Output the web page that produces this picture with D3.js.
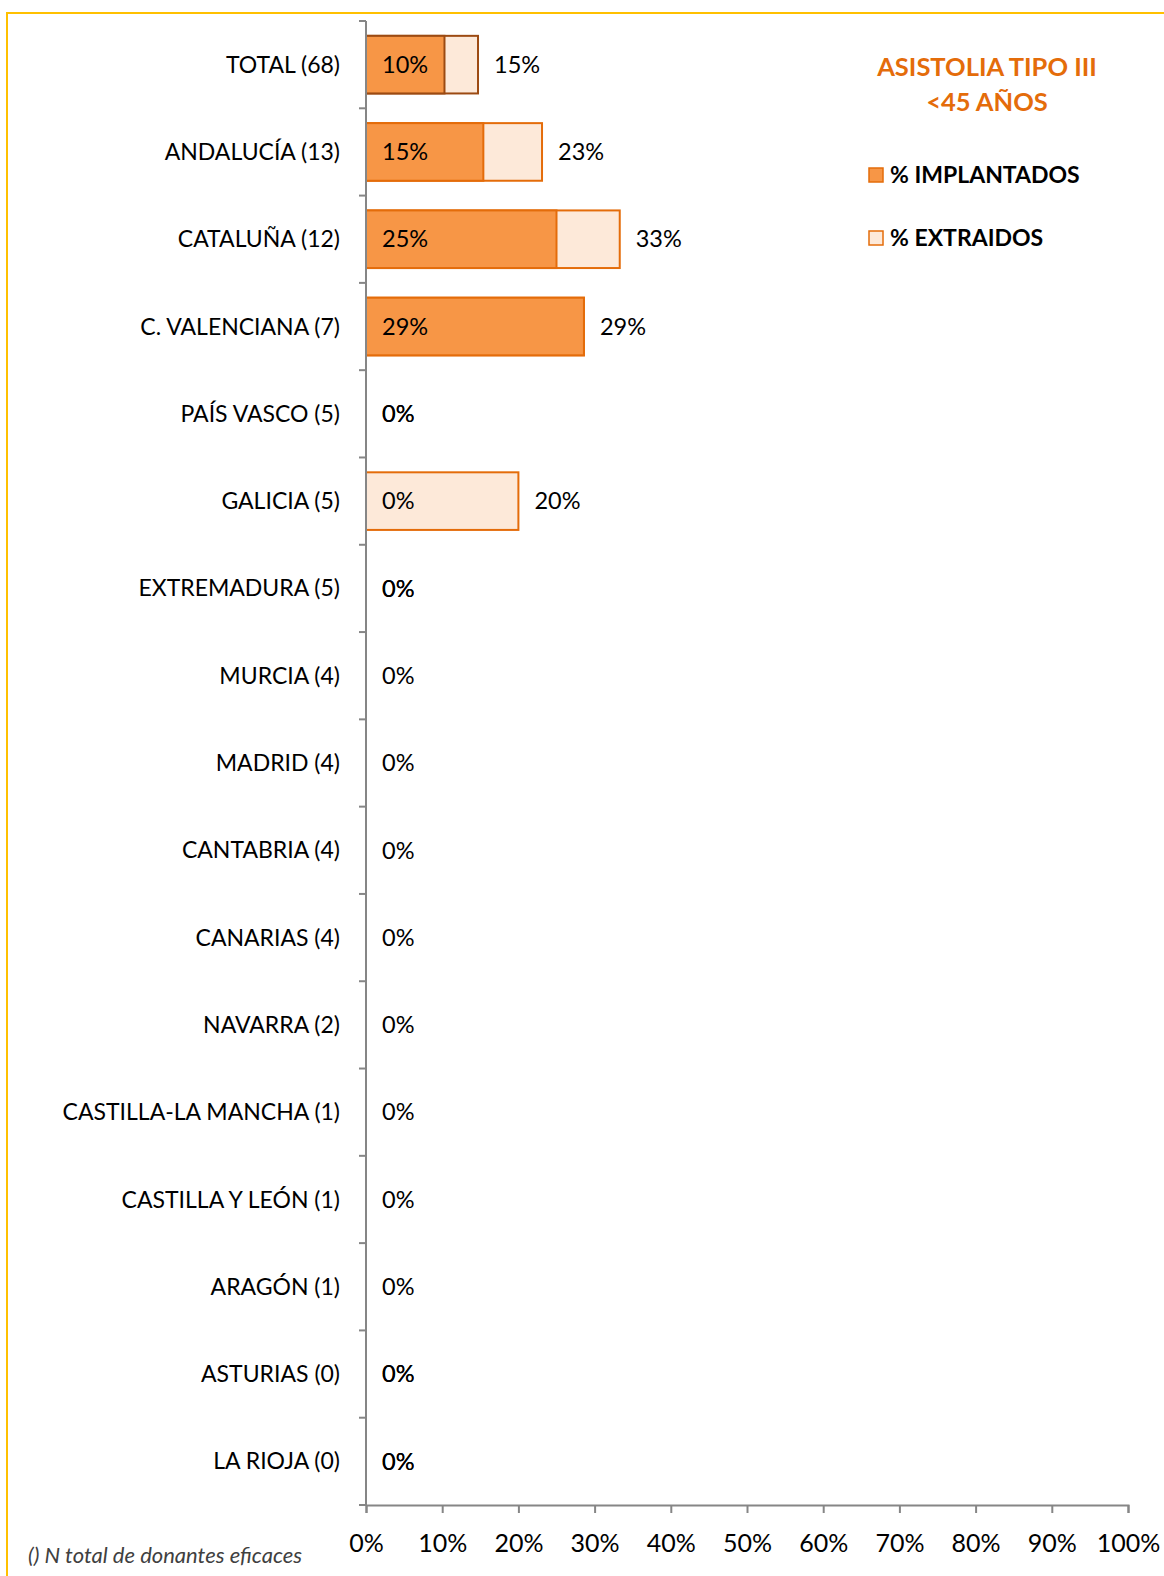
<!DOCTYPE html>
<html>
<head>
<meta charset="utf-8">
<script src="https://cdn.jsdelivr.net/npm/d3@7"></script>
<style>
  body { margin: 0; background: #fff; }
  svg text { font-family: Lato, "Open Sans", sans-serif; }
</style>
</head>
<body>
<div id="chart"></div>
<script>
// Asistolia tipo III, <45 años: % implantados vs % extraidos por comunidad

const W = 1164, H = 1576;

const regions = ['TOTAL (68)', 'ANDALUCÍA (13)', 'CATALUÑA (12)', 'C. VALENCIANA (7)', 'PAÍS VASCO (5)',
  'GALICIA (5)', 'EXTREMADURA (5)', 'MURCIA (4)', 'MADRID (4)', 'CANTABRIA (4)', 'CANARIAS (4)',
  'NAVARRA (2)', 'CASTILLA-LA MANCHA (1)', 'CASTILLA Y LEÓN (1)', 'ARAGÓN (1)', 'ASTURIAS (0)', 'LA RIOJA (0)'];
// percentages; null = no value shown
const implantados = [10.3, 15.4, 25, 28.6, 0, 0, 0, 0, 0, 0, 0, 0, 0, 0, 0, 0, 0];
const extraidos = [14.7, 23.1, 33.3, 28.6, 0, 20, 0, null, null, null, null, null, null, null, null, 0, 0];
const xTicks = [0, 10, 20, 30, 40, 50, 60, 70, 80, 90, 100];

const orange = '#F79646', orangeLine = '#E46C0A', light = '#FDE9D9';
const yTop = 21, yBottom = 1505;

const svg = d3.select('#chart').append('svg')
  .attr('width', W).attr('height', H);

// yellow frame
svg.append('rect')
  .attr('x', 7).attr('y', 13)
  .attr('width', W + 20).attr('height', H + 20)
  .attr('fill', 'none').attr('stroke', '#FFC000').attr('stroke-width', 2);

const x = d3.scaleLinear().domain([0, 100]).range([366, 1128]);
const y = d3.scaleBand().domain(regions).range([yTop, yBottom]).paddingInner(0.34).paddingOuter(0.17);
const step = y.step();

const g = svg.append('g');

// extraidos bars (behind)
g.selectAll('rect.ext')
  .data(regions.map((r, i) => ({ r, v: extraidos[i], i })).filter(d => d.v > 0))
  .enter().append('rect')
  .attr('class', 'ext')
  .attr('x', x(0))
  .attr('y', d => y(d.r))
  .attr('width', d => x(d.v) - x(0))
  .attr('height', y.bandwidth())
  .attr('fill', light)
  .attr('stroke', d => d.i === 0 ? '#9C4A12' : orangeLine)
  .attr('stroke-width', 2);

// implantados bars
g.selectAll('rect.imp')
  .data(regions.map((r, i) => ({ r, v: implantados[i], i })).filter(d => d.v > 0))
  .enter().append('rect')
  .attr('class', 'imp')
  .attr('x', x(0))
  .attr('y', d => y(d.r))
  .attr('width', d => x(d.v) - x(0))
  .attr('height', y.bandwidth())
  .attr('fill', orange)
  .attr('stroke', d => d.i === 0 ? '#9C4A12' : orangeLine)
  .attr('stroke-width', 2);

// labels: implantados inside, extraidos at the end
g.selectAll('text.lab-imp')
  .data(regions.map((r, i) => ({ r, v: implantados[i] })).filter(d => d.v !== null))
  .enter().append('text')
  .attr('x', x(0) + 16)
  .attr('y', d => y(d.r) + y.bandwidth() / 2)
  .attr('dy', '0.35em')
  .attr('font-size', 23.5)
  .attr('fill', '#000')
  .text(d => Math.round(d.v) + '%');

g.selectAll('text.lab-ext')
  .data(regions.map((r, i) => ({ r, v: extraidos[i] })).filter(d => d.v !== null))
  .enter().append('text')
  .attr('x', d => x(d.v) + 16)
  .attr('y', d => y(d.r) + y.bandwidth() / 2)
  .attr('dy', '0.35em')
  .attr('font-size', 23.5)
  .attr('fill', '#000')
  .text(d => Math.round(d.v) + '%');

// y axis
const axisColor = '#868686';
g.append('line')
  .attr('x1', x(0)).attr('x2', x(0))
  .attr('y1', yTop).attr('y2', yBottom)
  .attr('stroke', axisColor).attr('stroke-width', 2);
g.selectAll('line.ytick')
  .data(d3.range(regions.length + 1))
  .enter().append('line')
  .attr('x1', x(0) - 7).attr('x2', x(0))
  .attr('y1', i => yTop + i * step).attr('y2', i => yTop + i * step)
  .attr('stroke', axisColor).attr('stroke-width', 2);
g.selectAll('text.cat')
  .data(regions)
  .enter().append('text')
  .attr('x', 340)
  .attr('y', d => y(d) + y.bandwidth() / 2)
  .attr('dy', '0.35em')
  .attr('text-anchor', 'end')
  .attr('font-size', 23)
  .attr('fill', '#000')
  .text(d => d);

// x axis
const xAxis = g.append('g')
  .attr('transform', `translate(0,${yBottom})`)
  .call(d3.axisBottom(x).tickValues(xTicks).tickFormat(d => d + '%').tickSize(8).tickPadding(21));
xAxis.select('.domain').attr('stroke', axisColor).attr('stroke-width', 2);
xAxis.selectAll('.tick line').attr('stroke', axisColor).attr('stroke-width', 2);
xAxis.selectAll('.tick text').attr('font-size', 25).attr('fill', '#000')
  .attr('font-family', 'Lato, "Open Sans", sans-serif');

// title
svg.append('text').attr('x', 987).attr('y', 67).attr('dy', '0.35em')
  .attr('text-anchor', 'middle').attr('font-size', 25.5).attr('font-weight', 'bold')
  .attr('fill', orangeLine).text('ASISTOLIA TIPO III');
svg.append('text').attr('x', 987).attr('y', 102.5).attr('dy', '0.35em')
  .attr('text-anchor', 'middle').attr('font-size', 25.5).attr('font-weight', 'bold')
  .attr('fill', orangeLine).text('<45 AÑOS');

// legend
const legend = [
  { name: '% IMPLANTADOS', fill: orange, y: 175 },
  { name: '% EXTRAIDOS', fill: light, y: 238 }
];
const lg = svg.selectAll('g.legend').data(legend).enter().append('g');
lg.append('rect')
  .attr('x', 869).attr('y', d => d.y - 7)
  .attr('width', 14).attr('height', 14)
  .attr('fill', d => d.fill).attr('stroke', orangeLine).attr('stroke-width', 1.5);
lg.append('text')
  .attr('x', 890).attr('y', d => d.y).attr('dy', '0.35em')
  .attr('font-size', 23).attr('font-weight', 'bold').attr('fill', '#000')
  .text(d => d.name);

// footnote
svg.append('text').attr('x', 28).attr('y', 1555).attr('dy', '0.35em')
  .attr('font-size', 22).attr('font-style', 'italic').attr('fill', '#404040')
  .text('() N total de donantes eficaces');
</script>
</body>
</html>
